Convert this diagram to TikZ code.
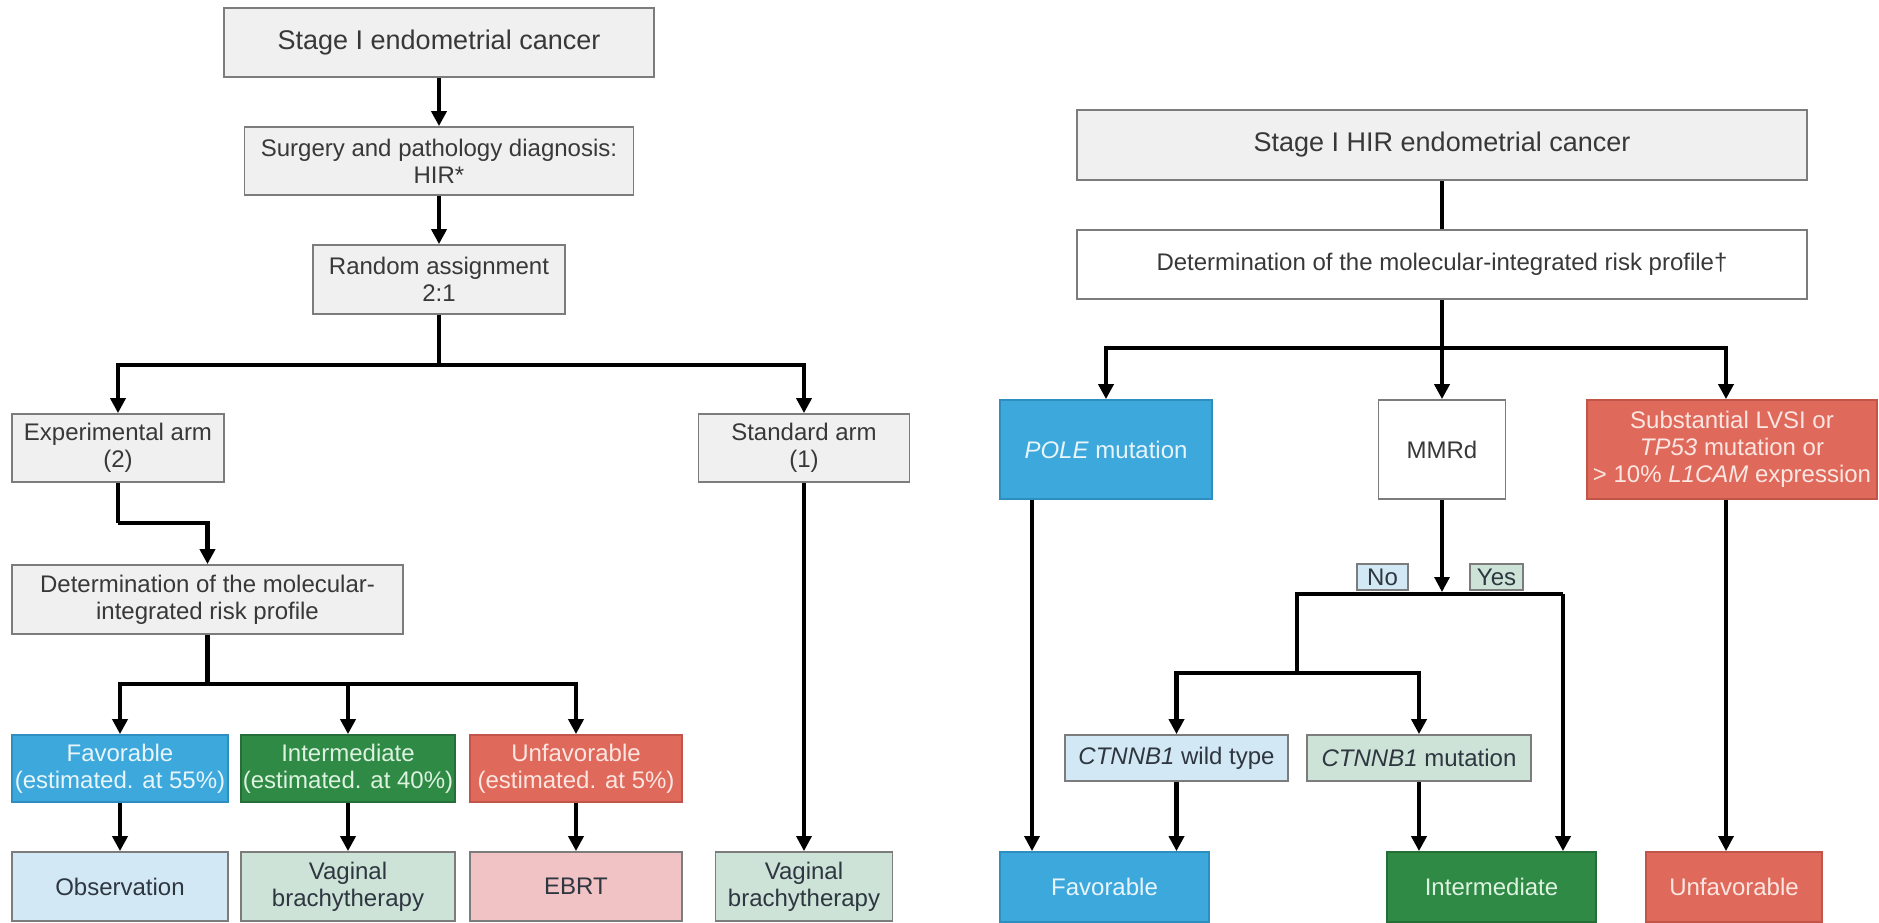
\documentclass[tikz,border=0pt]{standalone}
\usepackage{fontspec}
\setmainfont{Liberation Sans}
\usetikzlibrary{arrows.meta}
\definecolor{grayc}{HTML}{F0F0F0}
\definecolor{bordc}{HTML}{7C7C7C}
\definecolor{txtc}{HTML}{383838}
\definecolor{bluec}{HTML}{3DA8DC}
\definecolor{bluebd}{HTML}{2F8EC0}
\definecolor{bluetx}{HTML}{E8F5FB}
\definecolor{greenc}{HTML}{2F8A46}
\definecolor{greenbd}{HTML}{256E38}
\definecolor{greentx}{HTML}{DDF2DF}
\definecolor{redc}{HTML}{DF6A5C}
\definecolor{redbd}{HTML}{C2554A}
\definecolor{redtx}{HTML}{FCE6E1}
\definecolor{lbluec}{HTML}{D3E8F5}
\definecolor{lgreenc}{HTML}{CDE3D8}
\definecolor{pinkc}{HTML}{F1C3C4}
\definecolor{darktx}{HTML}{2E3640}
\begin{document}
\begin{tikzpicture}[x=1pt,y=-1pt,
  bx/.style={draw=bordc, line width=1.8pt, rectangle, align=center, inner sep=0pt,
     font=\fontsize{24}{27}\selectfont, text=txtc},
  hdr/.style={font=\fontsize{27}{30}\selectfont},
  grayb/.style={bx, fill=grayc},
  whiteb/.style={bx, fill=white},
  blueb/.style={bx, fill=bluec, draw=bluebd, text=bluetx},
  greenb/.style={bx, fill=greenc, draw=greenbd, text=greentx},
  redb/.style={bx, fill=redc, draw=redbd, text=redtx},
  lblueb/.style={bx, fill=lbluec, text=darktx},
  lgreenb/.style={bx, fill=lgreenc, text=darktx},
  pinkb/.style={bx, fill=pinkc, text=darktx},
  thk/.style={line width=4.5pt},
  thn/.style={line width=3.2pt},
  arr/.style={-{Triangle[width=15pt,length=15pt]}}
]
\useasboundingbox (0,0) rectangle (1879,923);

% ---------- left panel ----------
\node[grayb,hdr,minimum width=430pt,minimum height=69pt] (s1) at (439,42.5) {Stage I endometrial cancer};
\node[grayb,minimum width=389pt,minimum height=68pt] (s2) at (439,161) {Surgery and pathology diagnosis:\\HIR*};
\node[grayb,minimum width=252pt,minimum height=69pt] (s3) at (439,279.5) {Random assignment\\2:1};
\node[grayb,minimum width=212pt,minimum height=68pt] (exp) at (118,448) {Experimental arm\\(2)};
\node[grayb,minimum width=211pt,minimum height=68pt] (std) at (804,448) {Standard arm\\(1)};
\node[grayb,minimum width=391pt,minimum height=69pt] (det) at (207.5,599.5) {Determination of the molecular-\\integrated risk profile};
\node[blueb,minimum width=216pt,minimum height=67pt] (fav) at (120,768.5) {Favorable\\(estimated. at 55\%)};
\node[greenb,minimum width=214pt,minimum height=67pt] (int) at (348,768.5) {Intermediate\\(estimated. at 40\%)};
\node[redb,minimum width=212pt,minimum height=67pt] (unf) at (576,768.5) {Unfavorable\\(estimated. at 5\%)};
\node[lblueb,minimum width=216pt,minimum height=69pt] (obs) at (120,886.5) {Observation};
\node[lgreenb,minimum width=214pt,minimum height=69pt] (vb1) at (348,886.5) {Vaginal\\brachytherapy};
\node[pinkb,minimum width=212pt,minimum height=69pt] (ebrt) at (576,886.5) {EBRT};
\node[lgreenb,minimum width=177pt,minimum height=69pt] (vb2) at (804,886.5) {Vaginal\\brachytherapy};

\coordinate (j1) at (439,365);
\coordinate (j2) at (118,523);
\coordinate (j3) at (207.5,684);

\draw[thk,arr] (s1.south) -- (s2.north);
\draw[thk,arr] (s2.south) -- (s3.north);
\draw[thk] (s3.south) -- (j1);
\draw[thk,arr] (j1) -| (exp.north);
\draw[thk,arr] (j1) -| (std.north);
\draw[thk] (exp.south) -- (j2);
\draw[thk,arr] (j2) -| (det.north);
\draw[thk] (det.south) -- (j3);
\draw[thk,arr] (j3) -| (fav.north);
\draw[thk,arr] (j3) -| (unf.north);
\draw[thk,arr] (int.north |- j3) -- (int.north);
\draw[thk,arr] (fav.south) -- (obs.north);
\draw[thk,arr] (int.south) -- (vb1.north);
\draw[thk,arr] (unf.south) -- (ebrt.north);
\draw[thn,arr] (std.south) -- (vb2.north);

% ---------- right panel ----------
\node[grayb,hdr,minimum width=730pt,minimum height=70pt] (r1) at (1442,145) {Stage I HIR endometrial cancer};
\node[whiteb,minimum width=730pt,minimum height=69pt] (r2) at (1442,264.5) {Determination of the molecular-integrated risk profile†};
\node[blueb,minimum width=212pt,minimum height=99pt] (pole) at (1106,449.5) {\textit{POLE} mutation};
\node[whiteb,minimum width=127pt,minimum height=99pt] (mmr) at (1442,449.5) {MMRd};
\node[redb,minimum width=290pt,minimum height=99pt] (red) at (1732,449.5) {Substantial LVSI or\\\textit{TP53} mutation or\\> 10\% \textit{L1CAM} expression};
\node[lblueb,minimum width=51pt,minimum height=26pt] (no) at (1382.5,577) {No};
\node[lgreenb,minimum width=53pt,minimum height=26pt] (yes) at (1496.5,577) {Yes};
\node[lblueb,minimum width=223pt,minimum height=46pt] (wt) at (1176.5,758) {\textit{CTNNB1} wild type};
\node[lgreenb,minimum width=224pt,minimum height=46pt] (mut) at (1419,758) {\textit{CTNNB1} mutation};
\node[blueb,minimum width=209pt,minimum height=70pt] (fav2) at (1104.5,887) {Favorable};
\node[greenb,minimum width=209pt,minimum height=70pt] (int2) at (1491.5,887) {Intermediate};
\node[redb,minimum width=176pt,minimum height=70pt] (unf2) at (1734,887) {Unfavorable};

\coordinate (k1) at (1442,348);
\coordinate (k2) at (1442,594);
\coordinate (kl) at (1297,594);
\coordinate (kr) at (1563,594);
\coordinate (k3) at (1297,673);

\draw[thk] (r1.south) -- (r2.north);
\draw[thk] (r2.south) -- (k1);
\draw[thk,arr] (k1) -| (pole.north);
\draw[thk,arr] (k1) -- (mmr.north);
\draw[thk,arr] (k1) -| ([xshift=-6pt]red.north);
\draw[thn,arr,shorten >=2pt] (mmr.south) -- (k2);
\draw[thk] (kr) -- (kl) -- (k3);
\draw[thk,arr] (k3) -| (wt.north);
\draw[thk,arr] (k3) -| (mut.north);
\draw[thk,arr] (kr) -- (kr |- int2.north);
\draw[thn,arr] ([xshift=-74pt]pole.south) -- ([xshift=-74pt]pole.south |- fav2.north);
\draw[thk,arr] (wt.south) -- (wt.south |- fav2.north);
\draw[thk,arr] (mut.south) -- (mut.south |- int2.north);
\draw[thn,arr] ([xshift=-6pt]red.south) -- ([xshift=-6pt]red.south |- unf2.north);
\end{tikzpicture}
\end{document}
